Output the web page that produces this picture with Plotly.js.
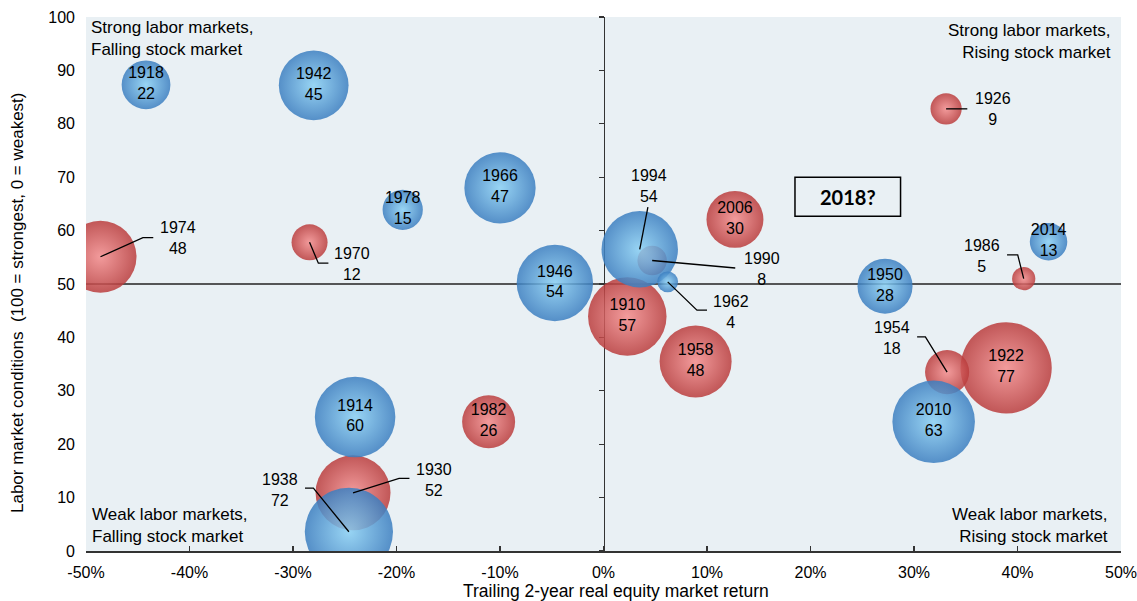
<!DOCTYPE html>
<html>
<head>
<meta charset="utf-8">
<script src="https://cdn.plot.ly/plotly-3.0.1.min.js"></script>
<style>html,body{margin:0;padding:0;background:#fff;}#chart{width:1137px;height:601px;}</style>
</head>
<body>
<div id="chart"></div>
<script>
// Midterm election years
const years  = [1910, 1914, 1918, 1922, 1926, 1930, 1938, 1942, 1946, 1950, 1954, 1958, 1962, 1966, 1970, 1974, 1978, 1982, 1986, 1990, 1994, 2006, 2010, 2014];
// President's party: R = red, D = blue
const party  = ['R','D','D','R','R','R','D','D','D','D','R','R','D','D','R','R','D','R','R','R','D','R','D','D'];
// Trailing 2-year real equity market return (%)
const equityReturn = [2.3, -24.0, -44.2, 38.9, 33.1, -24.2, -24.6, -28.0, -4.7, 27.2, 33.2, 8.9, 6.2, -10.0, -28.4, -48.6, -19.4, -11.1, 40.6, 4.7, 3.5, 12.7, 31.9, 43.0];
// Labor market conditions (100 = strongest, 0 = weakest)
const laborCond = [43.9, 25.1, 87.3, 34.3, 82.8, 10.9, 3.6, 87.2, 50.2, 49.6, 33.5, 35.5, 50.4, 68.0, 57.8, 55.1, 63.9, 24.2, 51.0, 54.4, 56.5, 62.1, 24.2, 57.9];
// House seats lost by the president's party (bubble size)
const seatsLost = [57, 60, 22, 77, 9, 52, 72, 45, 54, 28, 18, 48, 4, 47, 12, 48, 15, 26, 5, 8, 54, 30, 63, 13];

const xTicks = [-50, -40, -30, -20, -10, 0, 10, 20, 30, 40, 50];
const yTicks = [0, 10, 20, 30, 40, 50, 60, 70, 80, 90, 100];

// Label placement for bubbles labelled outside (layout, not data)
const callouts = {
  1974: {label: [-41.1, 58.7],  path: [[-44.5, 58.7], [-43.5, 58.7]]},
  1970: {label: [-24.26, 53.7], path: [[-27.55, 53.9], [-26.58, 53.9]]},
  1994: {label: [4.35, 68.4],   path: [[4.29, 64.4]]},
  1990: {label: [15.31, 52.9],  path: [[12.73, 53.0]]},
  1962: {label: [12.34, 44.8],  path: [[9.03, 45.1], [10.0, 45.1]]},
  1930: {label: [-16.34, 13.3], path: [[-19.75, 13.6], [-18.75, 13.6]]},
  1938: {label: [-31.25, 11.5], path: [[-28.03, 11.76], [-28.84, 11.76]]},
  1926: {label: [37.6, 82.7],   path: [[35.15, 82.8]]},
  1986: {label: [36.58, 55.3],  path: [[40.02, 55.44], [38.99, 55.44]]},
  1954: {label: [27.88, 39.8],  path: [[31.1, 40.1], [30.3, 40.1]]}
};

const FONT = 'Liberation Sans, Arial, sans-serif';
const styles = {
  R: {edge: '#BA3C3C', center: '#F48C8C'},
  D: {edge: '#3B7EC0', center: '#8AD0F4'}
};

function buildTrace(p) {
  const idx = years.map((_, i) => i).filter(i => party[i] === p)
                   .sort((a, b) => seatsLost[b] - seatsLost[a]);
  return {
    type: 'scatter',
    mode: 'markers+text',
    x: idx.map(i => equityReturn[i]),
    y: idx.map(i => laborCond[i]),
    text: idx.map(i => callouts[years[i]] ? '' : years[i] + '<br>' + seatsLost[i]),
    textposition: 'middle center',
    textfont: {family: FONT, size: 16, color: '#000'},
    marker: {
      size: idx.map(i => seatsLost[i]),
      sizemode: 'area',
      sizeref: 0.0185,
      color: styles[p].edge,
      opacity: 0.85,
      line: {width: 0},
      gradient: {type: 'radial', color: styles[p].center}
    },
    hoverinfo: 'skip',
    showlegend: false,
    cliponaxis: true
  };
}

const traces = [buildTrace('R'), buildTrace('D'),
  {type: 'scatter', mode: 'markers', x: [], y: [], yaxis: 'y2', showlegend: false, hoverinfo: 'skip'}];

const annotations = [];
const shapes = [
  {type: 'line', xref: 'paper', x0: 0, x1: 1, yref: 'y', y0: 50, y1: 50,
   line: {color: '#222', width: 1.5}, layer: 'below'},
  {type: 'rect', xref: 'x', yref: 'y', x0: 18.5, x1: 28.7, y0: 62.7, y1: 70.0,
   line: {color: '#000', width: 1.5}, layer: 'above'}
];

years.forEach((yr, i) => {
  const c = callouts[yr];
  if (!c) return;
  let d = 'M ' + equityReturn[i] + ',' + laborCond[i];
  c.path.forEach(pt => { d += ' L ' + pt[0] + ',' + pt[1]; });
  shapes.push({type: 'path', xref: 'x', yref: 'y', path: d,
               line: {color: '#000', width: 1.3}, layer: 'above'});
  annotations.push({x: c.label[0], y: c.label[1], xref: 'x', yref: 'y',
    text: yr + '<br>' + seatsLost[i], showarrow: false,
    xanchor: 'center', yanchor: 'middle', align: 'center',
    font: {family: FONT, size: 16, color: '#000'}});
});

annotations.push(
  {x: 23.6, y: 66.35, xref: 'x', yref: 'y', text: '<b>2018?</b>', showarrow: false,
   font: {family: 'Lato, Liberation Sans, sans-serif', size: 20, color: '#000'}},
  {x: 0, y: 1, xref: 'paper', yref: 'paper', xanchor: 'left', yanchor: 'top', xshift: 3, yshift: 1,
   align: 'left', showarrow: false, text: 'Strong labor markets,<br>Falling stock market',
   font: {family: FONT, size: 17, color: '#000'}},
  {x: 1, y: 1, xref: 'paper', yref: 'paper', xanchor: 'right', yanchor: 'top', xshift: -8, yshift: -2,
   align: 'right', showarrow: false, text: 'Strong labor markets,<br>Rising stock market',
   font: {family: FONT, size: 17, color: '#000'}},
  {x: 0, y: 0, xref: 'paper', yref: 'paper', xanchor: 'left', yanchor: 'bottom', xshift: 4, yshift: 3,
   align: 'left', showarrow: false, text: 'Weak labor markets,<br>Falling stock market',
   font: {family: FONT, size: 17, color: '#000'}},
  {x: 1, y: 0, xref: 'paper', yref: 'paper', xanchor: 'right', yanchor: 'bottom', xshift: -11, yshift: 3,
   align: 'right', showarrow: false, text: 'Weak labor markets,<br>Rising stock market',
   font: {family: FONT, size: 17, color: '#000'}},
  // axis titles
  {x: 0.5, y: 0, xref: 'paper', yref: 'paper', xanchor: 'center', yanchor: 'middle', xshift: 12, yshift: -40,
   showarrow: false, text: 'Trailing 2-year real equity market return',
   font: {family: FONT, size: 17.5, color: '#000'}},
  {x: 0, y: 0.5, xref: 'paper', yref: 'paper', xanchor: 'center', yanchor: 'middle', xshift: -69, yshift: -19,
   textangle: -90, showarrow: false, text: 'Labor market conditions\u00a0 (100 = strongest, 0 = weakest)',
   font: {family: FONT, size: 17, color: '#000'}}
);

const layout = {
  width: 1137, height: 601,
  margin: {l: 86, r: 16, t: 17, b: 50},
  paper_bgcolor: '#fff',
  plot_bgcolor: '#E9F0F4',
  font: {family: FONT, size: 16, color: '#000'},
  xaxis: {
    range: [-50, 50], tickvals: xTicks, ticktext: xTicks.map(v => v + '%'),
    ticks: 'inside', ticklen: 5, tickwidth: 1.3, tickcolor: '#333',
    showline: true, linecolor: '#333', linewidth: 1.5,
    showgrid: false, zeroline: false, layer: 'below traces',
    ticklabelstandoff: 6, ticklabeloverflow: 'allow',
    tickfont: {family: FONT, size: 16, color: '#000'}
  },
  yaxis: {
    range: [0, 100], tickvals: yTicks, ticks: '', showline: false,
    showgrid: false, zeroline: false, ticklabelstandoff: 10,
    tickfont: {family: FONT, size: 16, color: '#000'}
  },
  yaxis2: {
    overlaying: 'y', anchor: 'free', position: 0.5, side: 'left',
    range: [0, 100], tickvals: yTicks, ticks: 'outside', ticklen: 5, tickwidth: 1.3, tickcolor: '#333',
    showticklabels: false, showline: true, linecolor: '#333', linewidth: 1.5,
    showgrid: false, zeroline: false, layer: 'below traces'
  },
  shapes: shapes,
  annotations: annotations,
  showlegend: false
};

Plotly.newPlot('chart', traces, layout, {displayModeBar: false, staticPlot: true});
</script>
</body>
</html>
